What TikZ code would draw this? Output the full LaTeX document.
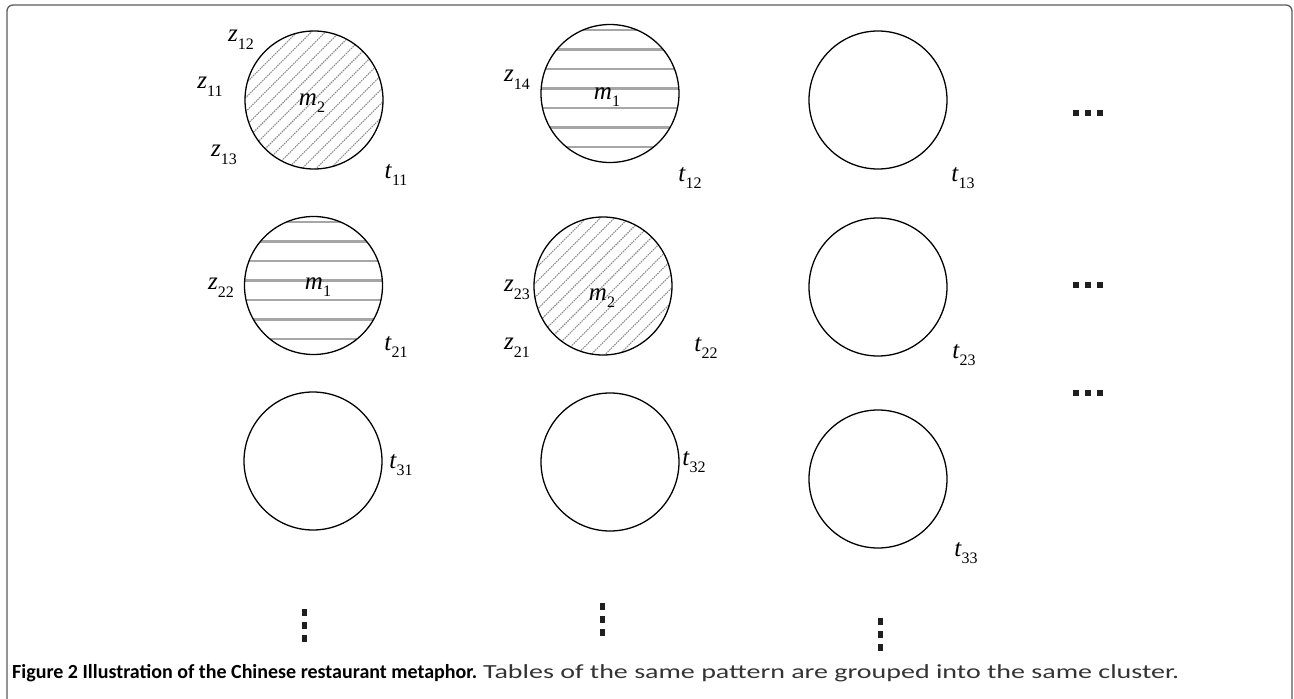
\documentclass[tikz,border=0pt]{standalone}
\usepackage{fontspec}
\setmainfont{Liberation Serif}
\newfontfamily\capfont{Carlito}
\usetikzlibrary{positioning}
\definecolor{frame}{HTML}{5A5A5A}
\definecolor{hatch}{HTML}{8C8C8C}
\definecolor{hatchl}{HTML}{A6A6A6}
\definecolor{captxt}{HTML}{333333}
\tikzset{
  tbl/.style={circle, draw=black, line width=1.3pt, minimum size=138pt, inner sep=0pt},
  lbl/.style={font=\fontsize{25}{27}\selectfont, inner sep=0pt},
  hatchd/.style={path picture={\foreach \k in {-20,...,20}{\draw[hatch, line width=1.1pt, dash pattern=on 1.5pt off 0.9pt] ([shift={(\k*14.14-100,100)}]path picture bounding box.center) -- ++(200,-200);}}},
  hatchh/.style={path picture={\foreach \dy in {-63.5,-44,...,53.5}{\draw[hatchl, line width=2.3pt] ([shift={(-80,\dy)}]path picture bounding box.center) -- ++(160,0);}}},
  sqdot/.style={fill=black!88, inner sep=0pt, minimum width=6pt, minimum height=6pt},
  vdot/.style={fill=black!88, inner sep=0pt, minimum width=5pt, minimum height=7pt}
}
\newcommand{\var}[2]{\textit{#1}\raisebox{-0.3em}{\fontsize{16}{17}\selectfont #2}}

\begin{document}
\begin{tikzpicture}[x=1pt, y=-1pt]
  \useasboundingbox (0,0) rectangle (1294,699);
  \draw[frame, line width=1.3pt, rounded corners=6pt] (7,699) -- (7,5) -- (1292,5) -- (1292,699);
  % tables
  \node[tbl, hatchd] (c11) at (314,100) {};
  \node[tbl, hatchh] (c12) at (610,93.5) {};
  \node[tbl] (c13) at (878,100) {};
  \node[tbl, hatchh] (c21) at (313.5,285.5) {};
  \node[tbl, hatchd] (c22) at (603,286) {};
  \node[tbl] (c23) at (878,287) {};
  \node[tbl] (c31) at (313,461) {};
  \node[tbl] (c32) at (610,462) {};
  \node[tbl] (c33) at (878,479) {};
  % dishes
  \node[lbl] (m11) at (312,103) {\var{m}{2}};
  \node[lbl] (m12) at (607,97) {\var{m}{1}};
  \node[lbl] (m21) at (318,287) {\var{m}{1}};
  \node[lbl] (m22) at (602,298) {\var{m}{2}};
  % table labels
  \foreach \n/\x/\y in {11/396/175, 12/690/178, 13/963/178, 21/396/347, 22/706/348, 23/964/355, 31/401/465, 32/694/462, 33/966/553}
    \node[lbl] (t\n) at (\x,\y) {\var{t}{\n}};
  % customers
  \foreach \n/\x/\y in {12/241/40, 11/210/87, 13/224/155, 14/517/80, 22/221/288, 23/517/290, 21/517/348}
    \node[lbl] (z\n) at (\x,\y) {\var{z}{\n}};
  % more tables
  \foreach \r/\y in {1/113, 2/285, 3/393}
    \foreach \i/\x in {1/1076, 2/1088, 3/1100}
      \node[sqdot] (h\r\i) at (\x,\y) {};
  \foreach \c/\x/\y in {1/304/612, 2/602/606, 3/880/621}
    \foreach \i in {0,1,2}
      \node[vdot] (v\c\i) at (\x,\y+13*\i) {};
  % caption
  \node[anchor=base west, inner sep=0pt, text=captxt, font=\capfont\fontsize{20}{22}\selectfont] (cap) at (12,678)
    {\textcolor{black}{\textbf{Figure 2 Illustration of the Chinese restaurant metaphor.}} \scalebox{1.4}[1]{Tables of the same pattern are grouped into the same cluster.}};
\end{tikzpicture}
\end{document}
